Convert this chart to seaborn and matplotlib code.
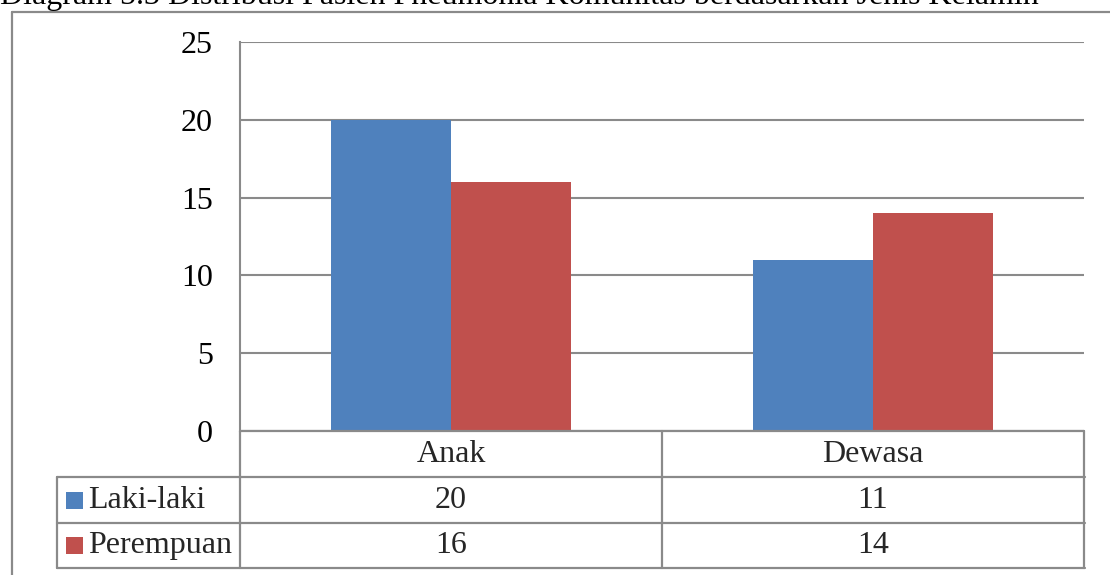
import matplotlib
matplotlib.use('Agg')
import matplotlib.pyplot as plt
import matplotlib.transforms as mtransforms
from matplotlib.lines import Line2D
from matplotlib.patches import Rectangle
import seaborn as sns
import pandas as pd

# ---- data ----
categories = ['Anak', 'Dewasa']
series_names = ['Laki-laki', 'Perempuan']
laki = [20, 11]
perempuan = [16, 14]
yticks = [0, 5, 10, 15, 20, 25]
title = 'Diagram 5.3 Distribusi Pasien Pneumonia Komunitas berdasarkan Jenis Kelamin'
colors = ['#4F81BD', '#C0504D']

df = pd.DataFrame({
    'kategori': categories * 2,
    'seri': [series_names[0]] * len(categories) + [series_names[1]] * len(categories),
    'nilai': laki + perempuan,
})
table_rows = [laki, perempuan]

sns.set_theme(style='white')
plt.rcParams['font.family'] = ['Liberation Serif', 'DejaVu Serif']

W, H = 1110, 575
fig = plt.figure(figsize=(W / 100, H / 100), dpi=100)


def fx(px):
    return px / W


def fy(py):
    return 1 - py / H


gridc = '#8a8a8a'
FS = 23

ax = fig.add_axes([fx(240), fy(431), fx(1084) - fx(240), fy(42) - fy(431)])
sns.barplot(data=df, x='kategori', y='nilai', hue='seri', palette=colors,
            width=0.57, gap=0, ax=ax, legend=False, saturation=1,
            edgecolor='none', linewidth=0)
ax.set_xlim(-0.5, len(categories) - 0.5)
ax.set_ylim(0, 25)
ax.set_yticks(yticks)
ax.set_yticklabels([str(v) for v in yticks], fontsize=FS, color='black')
ax.tick_params(axis='y', length=0, pad=19.5)
ax.set_xticks([])
ax.set_xlabel('')
ax.set_ylabel('')
for s in ['top', 'right', 'bottom']:
    ax.spines[s].set_visible(False)
ax.spines['left'].set_color(gridc)
ax.spines['left'].set_linewidth(1.5)
ax.yaxis.grid(True, color=gridc, linewidth=1.5)
ax.set_axisbelow(True)

# ---- title (partly cut off at top, as in the reference) ----
fig.text(fx(0), fy(4), title, ha='left', va='baseline', fontsize=FS, color='black')

# ---- outer chart border ----
lw = 1.6
fig.add_artist(Line2D([fx(12), fx(1110)], [fy(12), fy(12)], color=gridc, lw=lw, transform=fig.transFigure))
fig.add_artist(Line2D([fx(12), fx(12)], [fy(12), fy(575)], color=gridc, lw=lw, transform=fig.transFigure))

# ---- data table ----
bt = mtransforms.blended_transform_factory(ax.transData, fig.transFigure)
row_y = [431, 477, 523, 568]  # pixel boundaries: header, row1, row2
x_left, x_right = -0.5, len(categories) - 0.5
fig.add_artist(Line2D([x_left, x_right], [fy(row_y[0])] * 2, color=gridc, lw=lw, transform=bt))
for yy in row_y[1:]:
    fig.add_artist(Line2D([fx(57), fx(1085)], [fy(yy)] * 2, color=gridc, lw=lw, transform=fig.transFigure))
for i in range(len(categories) + 1):
    xv = i - 0.5
    fig.add_artist(Line2D([xv, xv], [fy(row_y[0]), fy(row_y[-1])], color=gridc, lw=lw, transform=bt))
fig.add_artist(Line2D([fx(57), fx(57)], [fy(row_y[1]), fy(row_y[-1])], color=gridc, lw=lw, transform=fig.transFigure))

for i, c in enumerate(categories):
    fig.text(i, fy((row_y[0] + row_y[1]) / 2), c, ha='center', va='center',
             fontsize=FS, transform=bt)
for r, (name, vals) in enumerate(zip(series_names, table_rows)):
    yc = (row_y[r + 1] + row_y[r + 2]) / 2
    fig.add_artist(Rectangle((fx(66), fy(yc + 8.5)), fx(17), 17 / H,
                             facecolor=colors[r], edgecolor='none', transform=fig.transFigure))
    fig.text(fx(88), fy(yc), name, ha='left', va='center', fontsize=FS)
    for i, v in enumerate(vals):
        fig.text(i, fy(yc), str(v), ha='center', va='center', fontsize=FS, transform=bt)

fig.savefig('out.png', dpi=100)
